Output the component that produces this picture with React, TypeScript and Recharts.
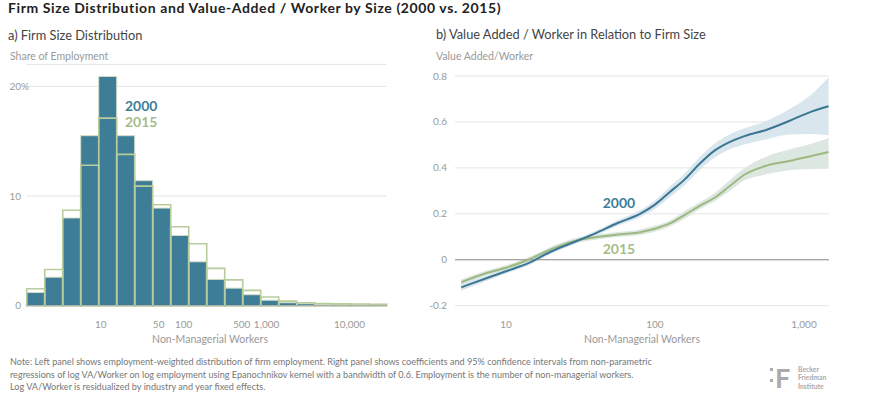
import {
  ComposedChart,
  Bar,
  Line,
  Area,
  XAxis,
  YAxis,
  CartesianGrid,
  ReferenceLine,
} from "recharts";

// left panel: share of employment per log-size bin (%)
const bins = ["1", "2", "3", "4", "5", "6", "7", "8", "9", "10", "11", "12", "13", "14", "15", "16", "17", "18", "19", "20"];
const share2000 = [1.2, 2.6, 8.0, 15.5, 20.9, 15.5, 11.4, 8.9, 6.4, 4.0, 2.4, 1.6, 1.0, 0.5, 0.27, 0.18, 0.12, 0.09, 0.08, 0.07];
const share2015 = [1.55, 3.3, 8.7, 12.8, 17.1, 13.8, 10.9, 9.2, 7.2, 5.65, 3.4, 2.35, 1.4, 0.8, 0.42, 0.27, 0.2, 0.17, 0.15, 0.13];
const sizeTicks = [1, 1.699, 2, 2.699, 3, 4]; // log10 of workers
const sizeTickLabels = ["10", "50", "100", "500", "1,000", "10,000"];
const shareTicks = [0, 10, 20];

// right panel: value added / worker vs log10(workers)
const logWorkers = [0.7, 0.85, 1.0, 1.15, 1.3, 1.45, 1.6, 1.75, 1.9, 2.0, 2.1, 2.2, 2.3, 2.4, 2.5, 2.6, 2.75, 2.9, 3.05, 3.165];
const va2000 = [-0.12, -0.085, -0.05, -0.015, 0.035, 0.075, 0.115, 0.16, 0.2, 0.24, 0.295, 0.35, 0.418, 0.475, 0.512, 0.538, 0.566, 0.604, 0.645, 0.668];
const lo2000 = [-0.135, -0.097, -0.06, -0.025, 0.025, 0.065, 0.105, 0.148, 0.185, 0.222, 0.272, 0.325, 0.39, 0.445, 0.48, 0.502, 0.525, 0.545, 0.548, 0.542];
const hi2000 = [-0.105, -0.073, -0.04, -0.005, 0.045, 0.085, 0.125, 0.172, 0.215, 0.258, 0.318, 0.375, 0.447, 0.505, 0.545, 0.572, 0.605, 0.655, 0.72, 0.793];
const va2015 = [-0.098, -0.062, -0.035, 0.0, 0.045, 0.08, 0.098, 0.11, 0.12, 0.135, 0.158, 0.195, 0.235, 0.27, 0.32, 0.37, 0.41, 0.43, 0.452, 0.469];
const lo2015 = [-0.11, -0.073, -0.046, -0.011, 0.034, 0.069, 0.087, 0.099, 0.108, 0.122, 0.145, 0.178, 0.22, 0.255, 0.298, 0.345, 0.372, 0.39, 0.395, 0.397];
const hi2015 = [-0.086, -0.051, -0.024, 0.011, 0.056, 0.091, 0.109, 0.121, 0.132, 0.148, 0.171, 0.212, 0.25, 0.29, 0.345, 0.398, 0.45, 0.48, 0.505, 0.53];
const vaTicks = [-0.2, 0, 0.2, 0.4, 0.6, 0.8];
const workerTicks = [1, 2, 3];
const workerTickLabels = ["10", "100", "1,000"];

const histData = bins.map((bin, i) => ({ bin, s2000: share2000[i], s2015: share2015[i] }));
const vaData = logWorkers.map((lx, i) => ({
  lx,
  v2000: va2000[i],
  v2015: va2015[i],
  band2000: [lo2000[i], hi2000[i]],
  band2015: [lo2015[i], hi2015[i]],
}));

const FONT = "Lato, 'Open Sans', sans-serif";
const TEAL = "#3d7d98";
const GREEN = "#a3bd88";
const TICK = "#9a9a9a";

const LeftYTick = (props: any) => {
  const { y, payload } = props;
  return (
    <g>
      <text x={21} y={y} dy={3.5} textAnchor="end" fontSize={10} fill={TICK} fontFamily={FONT}>
        {payload.value}
      </text>
      {payload.value === 20 && (
        <text x={21} y={y} dy={3.5} textAnchor="start" fontSize={10} fill={TICK} fontFamily={FONT}>
          %
        </text>
      )}
    </g>
  );
};

const SizeTick = (props: any) => {
  const { x, payload } = props;
  const idx = sizeTicks.indexOf(payload.value);
  return (
    <text x={x} y={327.5} textAnchor="middle" fontSize={10} fill={TICK} fontFamily={FONT}>
      {sizeTickLabels[idx]}
    </text>
  );
};

const RightYTick = (props: any) => {
  const { y, payload } = props;
  return (
    <text x={27} y={y} dy={3.5} textAnchor="end" fontSize={10} fill={TICK} fontFamily={FONT}>
      {payload.value}
    </text>
  );
};

const WorkerTick = (props: any) => {
  const { x, payload } = props;
  const idx = workerTicks.indexOf(payload.value);
  return (
    <text x={x} y={327.5} textAnchor="middle" fontSize={10} fill={TICK} fontFamily={FONT}>
      {workerTickLabels[idx]}
    </text>
  );
};

export default function App() {
  return (
    <div style={{ position: "absolute", left: 0, top: 0, width: 870, height: 400, background: "#fff", overflow: "hidden" }}>
      <div style={{ position: "absolute", left: 0, top: 0 }}>
        <ComposedChart
          width={435}
          height={400}
          data={histData}
          barCategoryGap={0}
          margin={{ top: 64.4, right: 48.3, bottom: 74.3, left: 0 }}
        >
          <CartesianGrid xAxisId="a" vertical={false} stroke="#e4e4e4" />
          <XAxis xAxisId="a" dataKey="bin" hide />
          <XAxis xAxisId="b" dataKey="bin" hide />
          <XAxis
            xAxisId="log"
            dataKey="lx"
            type="number"
            domain={[0.108, 4.448]}
            ticks={sizeTicks}
            interval={0}
            allowDataOverflow
            height={20}
            axisLine={false}
            tickLine={false}
            tick={<SizeTick />}
          />
          <YAxis
            domain={[0, 22]}
            ticks={shareTicks}
            interval={0}
            width={26.7}
            axisLine={false}
            tickLine={false}
            tick={<LeftYTick />}
          />
          <ReferenceLine xAxisId="a" y={0} stroke="#a8a8a8" />
          <Bar xAxisId="a" dataKey="s2000" fill={TEAL} stroke="#d3ddc3" strokeWidth={1} isAnimationActive={false} />
          <Bar xAxisId="b" dataKey="s2015" fill="none" stroke="#b8cc9d" strokeWidth={1.6} isAnimationActive={false} />
        </ComposedChart>
      </div>

      <div style={{ position: "absolute", left: 420, top: 0 }}>
        <ComposedChart
          width={450}
          height={400}
          data={vaData}
          margin={{ top: 76, right: 41, bottom: 74.3, left: 15 }}
        >
          <CartesianGrid vertical={false} stroke="#e4e4e4" />
          <XAxis
            dataKey="lx"
            type="number"
            domain={[0.658, 3.168]}
            ticks={workerTicks}
            interval={0}
            height={20}
            axisLine={false}
            tickLine={false}
            tick={<WorkerTick />}
          />
          <YAxis
            domain={[-0.2, 0.8]}
            ticks={vaTicks}
            interval={0}
            width={20}
            axisLine={false}
            tickLine={false}
            tick={<RightYTick />}
          />
          <ReferenceLine y={0} stroke="#8f8f8f" />
          <Area dataKey="band2015" type="monotone" stroke="none" fill="#dde7e1" fillOpacity={1} isAnimationActive={false} />
          <Area dataKey="band2000" type="monotone" stroke="none" fill="#d5e3eb" fillOpacity={0.9} isAnimationActive={false} />
          <Line dataKey="v2015" type="monotone" stroke="#9db880" strokeWidth={2} dot={false} isAnimationActive={false} />
          <Line dataKey="v2000" type="monotone" stroke="#3b7792" strokeWidth={2} dot={false} isAnimationActive={false} />
        </ComposedChart>
      </div>

      <svg width={870} height={400} style={{ position: "absolute", left: 0, top: 0, pointerEvents: "none" }} fontFamily={FONT}>
        <text x={8} y={12.5} fontSize={14} fontWeight={700} letterSpacing={0.6} fill="#222">
          Firm Size Distribution and Value-Added / Worker by Size (2000 vs. 2015)
        </text>

        <text x={8} y={39.5} fontSize={12.8} fill="#444">a) Firm Size Distribution</text>
        <text x={10} y={60} fontSize={10.5} fill="#999">Share of Employment</text>
        <text x={125} y={111} fontSize={14} fontWeight={700} fill={TEAL}>2000</text>
        <text x={125} y={127} fontSize={14} fontWeight={700} fill={GREEN}>2015</text>
        <text x={210} y={342.5} textAnchor="middle" fontSize={10.5} fill="#999">Non-Managerial Workers</text>

        <text x={436} y={38.5} fontSize={12.8} fill="#444">b) Value Added / Worker in Relation to Firm Size</text>
        <text x={436} y={60} fontSize={10.5} fill="#999">Value Added/Worker</text>
        <text x={602.7} y={207.5} fontSize={14} fontWeight={700} fill={TEAL}>2000</text>
        <text x={602.7} y={254} fontSize={14} fontWeight={700} fill={GREEN}>2015</text>
        <text x={642} y={342.5} textAnchor="middle" fontSize={10.5} fill="#999">Non-Managerial Workers</text>

        <text x={10} y={365} fontSize={9.1} fill="#777">
          Note: Left panel shows employment-weighted distribution of firm employment. Right panel shows coefficients and 95% confidence intervals from non-parametric
        </text>
        <text x={10} y={377.5} fontSize={9.1} fill="#777">
          regressions of log VA/Worker on log employment using Epanochnikov kernel with a bandwidth of 0.6. Employment is the number of non-managerial workers.
        </text>
        <text x={10} y={390} fontSize={9.1} fill="#777">
          Log VA/Worker is residualized by industry and year fixed effects.
        </text>

        <rect x={770} y={368} width={3} height={3} fill="#aaa" />
        <rect x={770} y={379} width={3} height={3} fill="#aaa" />
        <text x={775} y={388} fontSize={27} fontWeight={700} fill="#aaa">F</text>
        <text x={798} y={371.5} fontSize={6.8} fontWeight={700} fill="#aaa">Becker</text>
        <text x={798} y={380} fontSize={6.8} fontWeight={700} fill="#aaa">Friedman</text>
        <text x={798} y={388.5} fontSize={6.8} fontWeight={700} fill="#aaa">Institute</text>
      </svg>
    </div>
  );
}
